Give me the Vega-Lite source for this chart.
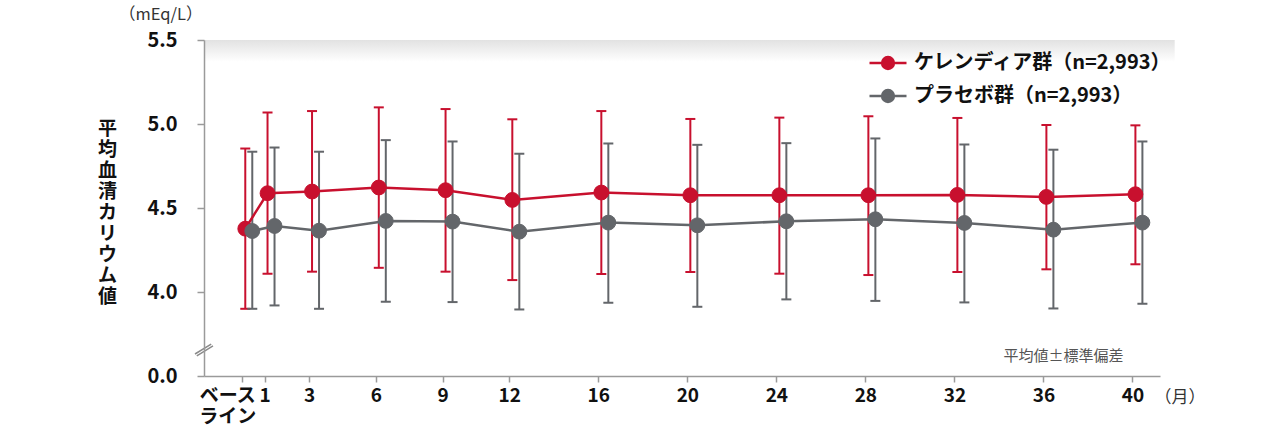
{
  "$schema": "https://vega.github.io/schema/vega-lite/v6.json",
  "width": 956,
  "height": 336,
  "autosize": "none",
  "padding": {"left": 204, "top": 40, "right": 115, "bottom": 53},
  "background": "#ffffff",
  "title": {"text": "（mEq/L）", "anchor": "start", "frame": "group", "dx": -85, "offset": 7, "fontSize": 16.5, "fontWeight": "normal", "color": "#333333", "font": "Noto Sans CJK JP"},
  "datasets": {
    "d": [
      {"month": 0, "group": "ケレンディア群（n=2,993）", "mean": 4.377, "lo": 3.900, "hi": 4.854},
      {"month": 1, "group": "ケレンディア群（n=2,993）", "mean": 4.588, "lo": 4.109, "hi": 5.069},
      {"month": 3, "group": "ケレンディア群（n=2,993）", "mean": 4.598, "lo": 4.121, "hi": 5.077},
      {"month": 6, "group": "ケレンディア群（n=2,993）", "mean": 4.622, "lo": 4.144, "hi": 5.099},
      {"month": 9, "group": "ケレンディア群（n=2,993）", "mean": 4.606, "lo": 4.121, "hi": 5.089},
      {"month": 12, "group": "ケレンディア群（n=2,993）", "mean": 4.548, "lo": 4.071, "hi": 5.028},
      {"month": 16, "group": "ケレンディア群（n=2,993）", "mean": 4.592, "lo": 4.107, "hi": 5.077},
      {"month": 20, "group": "ケレンディア群（n=2,993）", "mean": 4.576, "lo": 4.119, "hi": 5.030},
      {"month": 24, "group": "ケレンディア群（n=2,993）", "mean": 4.576, "lo": 4.109, "hi": 5.038},
      {"month": 28, "group": "ケレンディア群（n=2,993）", "mean": 4.576, "lo": 4.101, "hi": 5.046},
      {"month": 32, "group": "ケレンディア群（n=2,993）", "mean": 4.578, "lo": 4.119, "hi": 5.036},
      {"month": 36, "group": "ケレンディア群（n=2,993）", "mean": 4.566, "lo": 4.135, "hi": 4.994},
      {"month": 40, "group": "ケレンディア群（n=2,993）", "mean": 4.582, "lo": 4.165, "hi": 4.992},
      {"month": 0, "group": "プラセボ群（n=2,993）", "mean": 4.363, "lo": 3.900, "hi": 4.835},
      {"month": 1, "group": "プラセボ群（n=2,993）", "mean": 4.393, "lo": 3.920, "hi": 4.860},
      {"month": 3, "group": "プラセボ群（n=2,993）", "mean": 4.365, "lo": 3.900, "hi": 4.835},
      {"month": 6, "group": "プラセボ群（n=2,993）", "mean": 4.423, "lo": 3.942, "hi": 4.904},
      {"month": 9, "group": "プラセボ群（n=2,993）", "mean": 4.419, "lo": 3.940, "hi": 4.896},
      {"month": 12, "group": "プラセボ群（n=2,993）", "mean": 4.359, "lo": 3.896, "hi": 4.823},
      {"month": 16, "group": "プラセボ群（n=2,993）", "mean": 4.413, "lo": 3.936, "hi": 4.884},
      {"month": 20, "group": "プラセボ群（n=2,993）", "mean": 4.397, "lo": 3.912, "hi": 4.876},
      {"month": 24, "group": "プラセボ群（n=2,993）", "mean": 4.421, "lo": 3.956, "hi": 4.886},
      {"month": 28, "group": "プラセボ群（n=2,993）", "mean": 4.433, "lo": 3.947, "hi": 4.914},
      {"month": 32, "group": "プラセボ群（n=2,993）", "mean": 4.411, "lo": 3.938, "hi": 4.878},
      {"month": 36, "group": "プラセボ群（n=2,993）", "mean": 4.371, "lo": 3.902, "hi": 4.847},
      {"month": 40, "group": "プラセボ群（n=2,993）", "mean": 4.413, "lo": 3.930, "hi": 4.896}
    ],
    "ann": [{"note": "平均値±標準偏差"}]
  },
  "layer": [
    {
      "data": {"name": "ann"},
      "mark": {"type": "rect", "fill": {"gradient": "linear", "x1": 0, "y1": 0, "x2": 0, "y2": 1, "stops": [{"offset": 0, "color": "#e2e2e2"}, {"offset": 1, "color": "#ffffff"}]}},
      "encoding": {
        "x": {"datum": -1.72, "type": "quantitative"},
        "x2": {"datum": 41.9},
        "y": {"datum": 5.5, "type": "quantitative"},
        "y2": {"datum": 5.37}
      }
    },
    {
      "data": {"name": "d"},
      "transform": [{"filter": "datum.group == 'ケレンディア群（n=2,993）'"}],
      "mark": {"type": "rule", "color": "#c8102e", "strokeWidth": 2, "xOffset": 3},
      "encoding": {
        "x": {
          "field": "month", "type": "quantitative",
          "scale": {"domain": [-1.72, 41.24], "nice": false, "zero": false},
          "axis": {
            "values": [0, 1, 3, 6, 9, 12, 16, 20, 24, 28, 32, 36, 40],
            "grid": false, "zindex": 1,
            "domainColor": "#9a9a9a", "domainWidth": 1.5,
            "tickColor": "#9a9a9a", "tickWidth": 1.5, "tickSize": 6,
            "labelPadding": 4, "labelFontSize": 19, "labelFontWeight": "bold", "labelColor": "#111111",
            "labelFlush": false, "labelOverlap": false, "labelLineHeight": 21,
            "labelExpr": "datum.value == 0 ? ['ベース', 'ライン'] : datum.label",
            "labelOffset": {"condition": {"test": "datum.value == 0", "value": -15}, "value": 0},
            "title": "（月）", "titleX": 950, "titleY": 21, "titleAlign": "left", "titleBaseline": "middle",
            "titleFontSize": 17, "titleFontWeight": "normal", "titleColor": "#333333"
          }
        },
        "y": {
          "field": "lo", "type": "quantitative",
          "scale": {"domain": [3.5, 5.5], "nice": false, "zero": false},
          "axis": {
            "values": [3.5, 4, 4.5, 5, 5.5],
            "grid": false, "zindex": 1,
            "domainColor": "#9a9a9a", "domainWidth": 1.5,
            "tickColor": "#9a9a9a", "tickWidth": 1.5, "tickSize": 7,
            "labelPadding": 20, "labelFontSize": 20, "labelFontWeight": "bold", "labelColor": "#111111",
            "labelExpr": "datum.value == 3.5 ? '0.0' : format(datum.value, '.1f')",
            "title": ["平", "均", "血", "清", "カ", "リ", "ウ", "ム", "値"],
            "titleAngle": 0, "titleX": -97, "titleY": 88, "titleAlign": "center", "titleBaseline": "middle",
            "titleFontSize": 19, "titleFontWeight": "bold", "titleColor": "#111111", "titleLineHeight": 21
          }
        },
        "y2": {"field": "hi"}
      }
    },
    {
      "data": {"name": "ann"},
      "mark": {"type": "point", "shape": "M-0.9,0.55L0.9,-0.45", "size": 324, "stroke": "#ffffff", "strokeWidth": 4, "filled": false, "opacity": 1},
      "encoding": {
        "x": {"datum": -1.72, "type": "quantitative"},
        "y": {"datum": 3.655, "type": "quantitative"}
      }
    },
    {
      "data": {"name": "ann"},
      "mark": {"type": "point", "shape": "M-1,0.45L0.8,-0.65M-0.8,0.65L1,-0.45", "size": 324, "stroke": "#8a8a8a", "strokeWidth": 1.5, "filled": false, "opacity": 1},
      "encoding": {
        "x": {"datum": -1.72, "type": "quantitative"},
        "y": {"datum": 3.655, "type": "quantitative"}
      }
    },
    {
      "data": {"name": "ann"},
      "mark": {"type": "text", "fontSize": 15, "color": "#555555", "align": "center", "baseline": "middle"},
      "encoding": {
        "x": {"datum": 36.9, "type": "quantitative"},
        "y": {"datum": 3.62, "type": "quantitative"},
        "text": {"field": "note"}
      }
    },
    {
      "data": {"name": "d"},
      "transform": [{"filter": "datum.group == 'ケレンディア群（n=2,993）'"}],
      "mark": {"type": "tick", "orient": "horizontal", "color": "#c8102e", "size": 10, "thickness": 2, "opacity": 1, "xOffset": 3},
      "encoding": {"x": {"field": "month", "type": "quantitative"}, "y": {"field": "lo", "type": "quantitative"}}
    },
    {
      "data": {"name": "d"},
      "transform": [{"filter": "datum.group == 'ケレンディア群（n=2,993）'"}],
      "mark": {"type": "tick", "orient": "horizontal", "color": "#c8102e", "size": 10, "thickness": 2, "opacity": 1, "xOffset": 3},
      "encoding": {"x": {"field": "month", "type": "quantitative"}, "y": {"field": "hi", "type": "quantitative"}}
    },
    {
      "data": {"name": "d"},
      "transform": [{"filter": "datum.group == 'プラセボ群（n=2,993）'"}],
      "mark": {"type": "rule", "color": "#63666a", "strokeWidth": 2, "xOffset": 10},
      "encoding": {"x": {"field": "month", "type": "quantitative"}, "y": {"field": "lo", "type": "quantitative"}, "y2": {"field": "hi"}}
    },
    {
      "data": {"name": "d"},
      "transform": [{"filter": "datum.group == 'プラセボ群（n=2,993）'"}],
      "mark": {"type": "tick", "orient": "horizontal", "color": "#63666a", "size": 10, "thickness": 2, "opacity": 1, "xOffset": 10},
      "encoding": {"x": {"field": "month", "type": "quantitative"}, "y": {"field": "lo", "type": "quantitative"}}
    },
    {
      "data": {"name": "d"},
      "transform": [{"filter": "datum.group == 'プラセボ群（n=2,993）'"}],
      "mark": {"type": "tick", "orient": "horizontal", "color": "#63666a", "size": 10, "thickness": 2, "opacity": 1, "xOffset": 10},
      "encoding": {"x": {"field": "month", "type": "quantitative"}, "y": {"field": "hi", "type": "quantitative"}}
    },
    {
      "data": {"name": "d"},
      "transform": [{"filter": "datum.group == 'ケレンディア群（n=2,993）'"}],
      "mark": {"type": "line", "color": "#c8102e", "strokeWidth": 2.5, "xOffset": 3},
      "encoding": {"x": {"field": "month", "type": "quantitative"}, "y": {"field": "mean", "type": "quantitative"}}
    },
    {
      "data": {"name": "d"},
      "transform": [{"filter": "datum.group == 'プラセボ群（n=2,993）'"}],
      "mark": {"type": "line", "color": "#63666a", "strokeWidth": 2.5, "xOffset": 10},
      "encoding": {"x": {"field": "month", "type": "quantitative"}, "y": {"field": "mean", "type": "quantitative"}}
    },
    {
      "data": {"name": "d"},
      "transform": [{"filter": "datum.group == 'ケレンディア群（n=2,993）'"}],
      "mark": {"type": "point", "filled": true, "size": 220, "opacity": 1, "strokeWidth": 1, "xOffset": 3},
      "encoding": {
        "x": {"field": "month", "type": "quantitative"}, "y": {"field": "mean", "type": "quantitative"},
        "fill": {"field": "group", "type": "nominal", "scale": {"domain": ["ケレンディア群（n=2,993）", "プラセボ群（n=2,993）"], "range": ["#c8102e", "#63666a"]}},
        "stroke": {"field": "group", "type": "nominal", "scale": {"domain": ["ケレンディア群（n=2,993）", "プラセボ群（n=2,993）"], "range": ["#c8102e", "#63666a"]}}
      }
    },
    {
      "data": {"name": "d"},
      "transform": [{"filter": "datum.group == 'プラセボ群（n=2,993）'"}],
      "mark": {"type": "point", "filled": true, "size": 220, "opacity": 1, "strokeWidth": 1, "xOffset": 10},
      "encoding": {
        "x": {"field": "month", "type": "quantitative"}, "y": {"field": "mean", "type": "quantitative"},
        "fill": {"field": "group", "type": "nominal", "scale": {"domain": ["ケレンディア群（n=2,993）", "プラセボ群（n=2,993）"], "range": ["#c8102e", "#63666a"]}},
        "stroke": {"field": "group", "type": "nominal", "scale": {"domain": ["ケレンディア群（n=2,993）", "プラセボ群（n=2,993）"], "range": ["#c8102e", "#63666a"]}}
      }
    }
  ],
  "resolve": {"scale": {"fill": "shared", "stroke": "shared"}},
  "config": {
    "font": "Noto Sans CJK JP",
    "view": {"stroke": null},
    "legend": {
      "title": null, "orient": "none", "legendX": 664, "legendY": 3,
      "symbolType": "M-1,0L1,0M-0.32,0A0.32,0.32,0,1,1,0.32,0A0.32,0.32,0,1,1,-0.32,0Z",
      "symbolSize": 1369, "symbolStrokeWidth": 2.5,
      "labelFont": "Noto Sans CJK JP", "labelFontSize": 20, "labelFontWeight": "bold", "labelColor": "#111111",
      "labelOffset": 6, "rowPadding": 2, "padding": 0, "labelLimit": 400
    }
  }
}
